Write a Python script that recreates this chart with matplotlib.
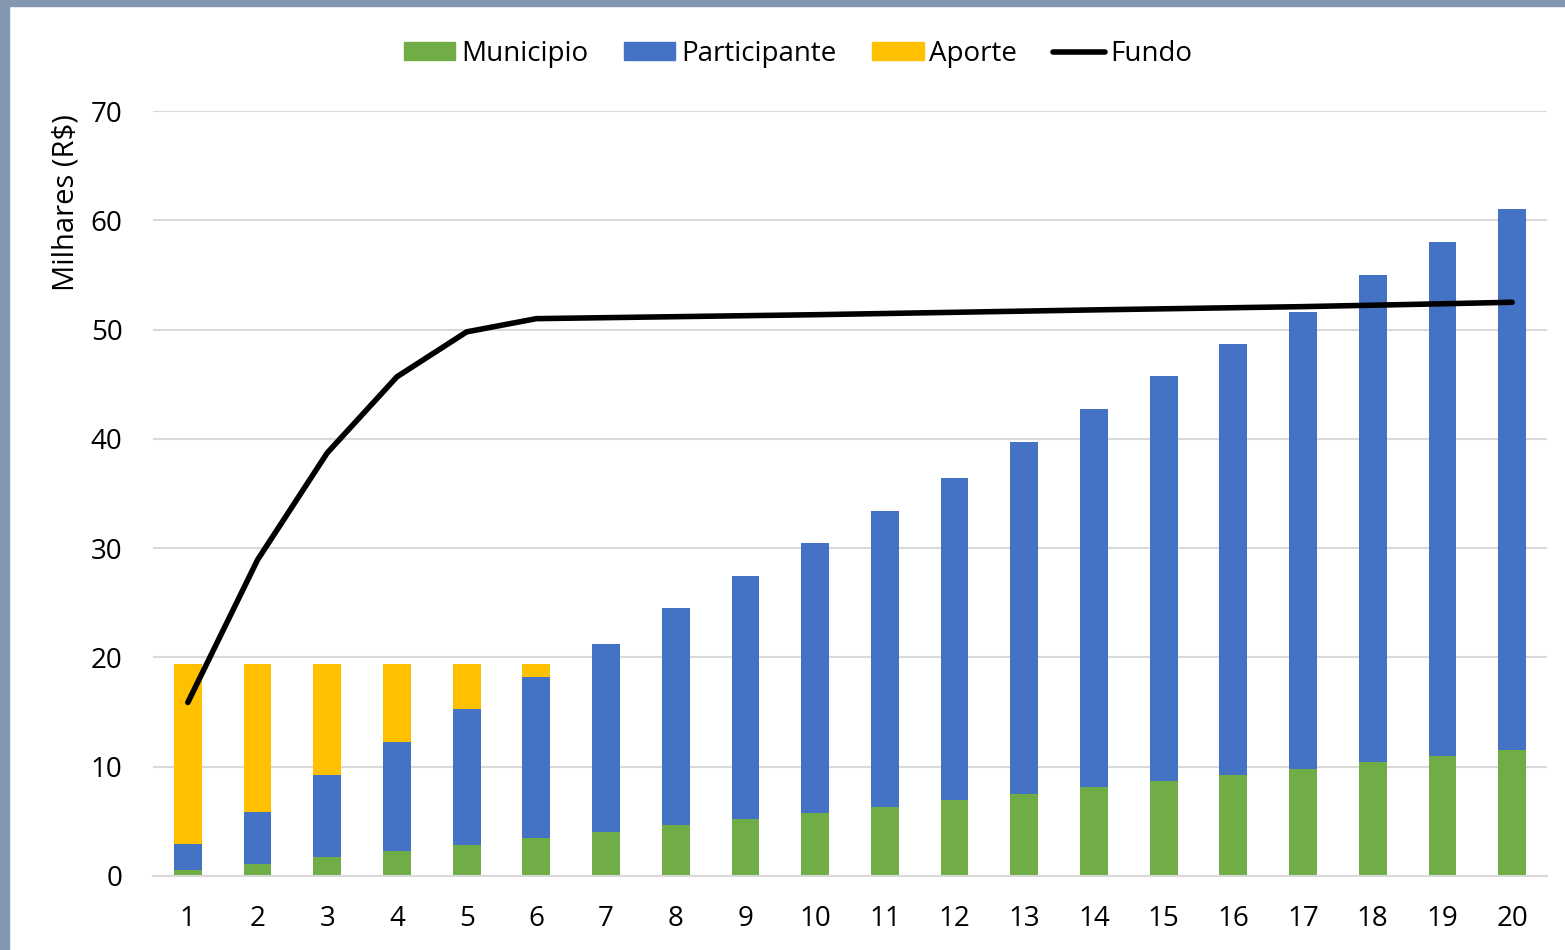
import numpy as np
import matplotlib
matplotlib.use('Agg')
import matplotlib.pyplot as plt
from matplotlib.patches import Rectangle
from matplotlib.lines import Line2D
from matplotlib.patches import Patch

anos = list(range(1, 21))
municipio = [0.55, 1.10, 1.72, 2.27, 2.82, 3.45, 4.03, 4.67, 5.22, 5.76,
             6.31, 6.95, 7.50, 8.14, 8.69, 9.24, 9.79, 10.40, 10.95, 11.53]
participante = [2.39, 4.79, 7.54, 10.00, 12.42, 14.77, 17.17, 19.84, 22.25, 24.70,
                27.10, 29.45, 32.25, 34.63, 37.04, 39.48, 41.86, 44.60, 47.08, 49.46]
aporte = [16.44, 13.49, 10.12, 7.11, 4.14, 1.16, 0, 0, 0, 0,
          0, 0, 0, 0, 0, 0, 0, 0, 0, 0]
fundo = [15.88, 28.93, 38.72, 45.68, 49.79, 51.00, 51.09, 51.18, 51.27, 51.36,
         51.47, 51.58, 51.69, 51.80, 51.90, 52.00, 52.10, 52.23, 52.36, 52.50]

plt.rcParams['font.family'] = ['Open Sans', 'DejaVu Sans']

fig = plt.figure(figsize=(15.65, 9.5), dpi=100)
ax = fig.add_axes([153 / 1565, 1 - 876 / 950, 1394 / 1565, 765 / 950])

x = np.array(anos)
m = np.array(municipio)
p = np.array(participante)
a = np.array(aporte)
w = 0.4
ax.bar(x, m, w, color='#70AD47', label='Municipio', zorder=2)
ax.bar(x, p, w, bottom=m, color='#4472C4', label='Participante', zorder=2)
ax.bar(x, a, w, bottom=m + p, color='#FFC000', label='Aporte', zorder=2)
ax.plot(x, fundo, color='black', lw=4, solid_capstyle='round',
        solid_joinstyle='round', label='Fundo', zorder=3)

ax.set_xlim(0.5, 20.5)
ax.set_ylim(0, 70)
ax.set_xticks(x)
ax.set_yticks(range(0, 71, 10))
ax.tick_params(length=0, labelsize=20)
ax.tick_params(axis='x', pad=21)
ax.tick_params(axis='y', pad=22)
ax.grid(axis='y', color='#D9D9D9', lw=1.5, zorder=0)
for s in ['top', 'right', 'left']:
    ax.spines[s].set_visible(False)
ax.spines['bottom'].set_color('#D9D9D9')
ax.spines['bottom'].set_linewidth(1.5)
ax.set_ylabel('Milhares (R$)', fontsize=21)
ax.yaxis.set_label_coords(-0.052, 0.88)

handles = [Patch(color='#70AD47'), Patch(color='#4472C4'), Patch(color='#FFC000'),
           Line2D([0], [0], color='black', lw=4, solid_capstyle='round')]
fig.legend(handles, ['Municipio', 'Participante', 'Aporte', 'Fundo'],
           loc='center', bbox_to_anchor=(798 / 1565, 1 - 54 / 950), ncol=4,
           frameon=False, fontsize=20, handlelength=1.85, handleheight=0.62,
           handletextpad=0.2, columnspacing=1.3)

# moldura cinza-azulada
fig.patches.append(Rectangle((0, 0), 9 / 1565, 1, transform=fig.transFigure,
                             color='#8497B0', zorder=10))
fig.patches.append(Rectangle((0, 1 - 6 / 950), 1, 6 / 950, transform=fig.transFigure,
                             color='#8497B0', zorder=10))

plt.savefig('out.png', dpi=100)
